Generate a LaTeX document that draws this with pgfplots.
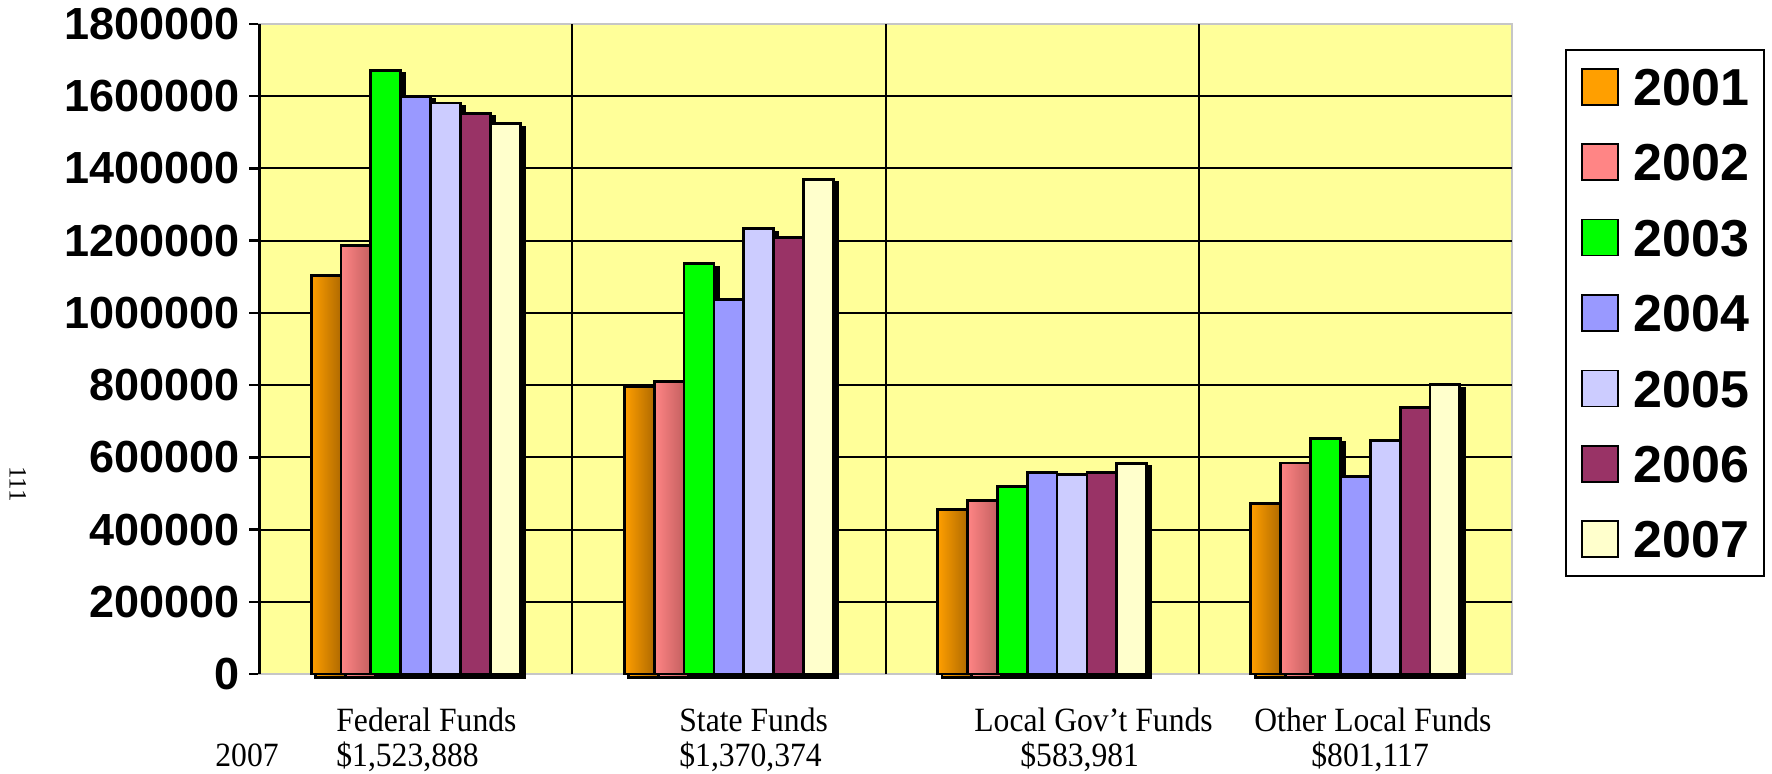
\documentclass[border=0pt]{standalone}
\usepackage{pgfplots}
\pgfplotsset{compat=1.18}
\usepackage{fontspec}
\usetikzlibrary{shadows}
\setmainfont{Liberation Serif}
\newfontfamily\arialfam{Liberation Sans}
\newfontfamily\botfam{Liberation Serif}[FakeStretch=0.93]
\newcommand\tickfont{\arialfam\bfseries\fontsize{22.5}{22.5}\selectfont}
\newcommand\legfont{\arialfam\bfseries\fontsize{26}{26}\selectfont}
\newcommand\botfont{\botfam\fontsize{17}{17}\selectfont}
\definecolor{cA}{HTML}{FF9F00}
\definecolor{cAd}{HTML}{B06A00}
\definecolor{cB}{HTML}{FF8585}
\definecolor{cBd}{HTML}{C46060}
\definecolor{cC}{HTML}{00FF00}
\definecolor{cD}{HTML}{9999FF}
\definecolor{cE}{HTML}{CCCCFF}
\definecolor{cF}{HTML}{993366}
\definecolor{cG}{HTML}{FFFFCC}
\definecolor{plotbg}{HTML}{FFFF99}

\pgfplotstableread{
x v2001 v2002 v2003 v2004 v2005 v2006 v2007
0 1104000 1186000 1672000 1600000 1581000 1553000 1523888
1 797000 809000 1136000 1036000 1234000 1208000 1370374
2 454500 479400 519200 557200 552600 558100 583981
3 472400 584400 651100 547400 647400 738100 801117
}\funds

\begin{document}
\begin{tikzpicture}
\useasboundingbox (0,0) rectangle (886pt,386.5pt);
\begin{axis}[
  at={(129.5pt,49.5pt)}, anchor=south west,
  scale only axis, width=626.5pt, height=325pt,
  xmin=-0.5, xmax=3.5, ymin=0, ymax=1800000,
  clip=false,
  axis background/.style={fill=plotbg},
  axis line style={draw=gray!45, line width=0.6pt},
  xtick=\empty,
  ytick={0,200000,400000,600000,800000,1000000,1200000,1400000,1600000,1800000},
  yticklabels={0,200000,400000,600000,800000,1000000,1200000,1400000,1600000,1800000},
  scaled y ticks=false,
  ytick pos=left,
  tick align=outside,
  major tick length=5pt,
  major tick style={black, line width=1.2pt},
  yticklabel style={font=\tickfont, anchor=east, inner sep=0pt, xshift=-4.5pt},
  extra y ticks={200000,400000,600000,800000,1000000,1200000,1400000,1600000},
  extra y tick labels={},
  extra y tick style={grid=major, major tick length=0pt},
  extra x ticks={0.5,1.5,2.5},
  extra x tick labels={},
  extra x tick style={grid=major, major tick length=0pt},
  major grid style={black, line width=1pt},
  bstyle/.style={ybar, bar width=14.93pt, draw=black, line width=1.4pt, forget plot,
    drop shadow={shadow xshift=2.2pt, shadow yshift=-1.8pt, fill=black, opacity=1}},
  cylA/.style={bstyle, bar shift=-44.79pt, left color=cA, right color=cAd},
  cylB/.style={bstyle, bar shift=-29.86pt, left color=cB, right color=cBd},
  legend style={
    at={(1.0423,0.9615)}, anchor=north west,
    draw=black, line width=1pt, fill=white,
    inner xsep=7.5pt, inner ysep=9pt,
    row sep=18.9pt, column sep=7.5pt,
    font=\legfont,
    nodes={inner sep=0pt, text height=18.6pt, text depth=0pt},
  },
  legend cell align=left,
  legend image code/.code={\draw[#1, draw=black, line width=0.8pt] (0pt,-9pt) rectangle (18pt,9pt);},
]
\addplot[cylA, restrict x to domain=-0.1:0.1] table[x=x, y=v2001] {\funds};
\addplot[cylA, restrict x to domain=0.9:1.1] table[x=x, y=v2001] {\funds};
\addplot[cylA, restrict x to domain=1.9:2.1] table[x=x, y=v2001] {\funds};
\addplot[cylA, restrict x to domain=2.9:3.1] table[x=x, y=v2001] {\funds};
\addplot[cylB, restrict x to domain=-0.1:0.1] table[x=x, y=v2002] {\funds};
\addplot[cylB, restrict x to domain=0.9:1.1] table[x=x, y=v2002] {\funds};
\addplot[cylB, restrict x to domain=1.9:2.1] table[x=x, y=v2002] {\funds};
\addplot[cylB, restrict x to domain=2.9:3.1] table[x=x, y=v2002] {\funds};
\addplot[bstyle, bar shift=-14.93pt, fill=cC] table[x=x, y=v2003] {\funds};
\addplot[bstyle, bar shift=0pt, fill=cD] table[x=x, y=v2004] {\funds};
\addplot[bstyle, bar shift=14.93pt, fill=cE] table[x=x, y=v2005] {\funds};
\addplot[bstyle, bar shift=29.86pt, fill=cF] table[x=x, y=v2006] {\funds};
\addplot[bstyle, bar shift=44.79pt, fill=cG] table[x=x, y=v2007] {\funds};
\addlegendimage{fill=cA}\addlegendentry{2001}
\addlegendimage{fill=cB}\addlegendentry{2002}
\addlegendimage{fill=cC}\addlegendentry{2003}
\addlegendimage{fill=cD}\addlegendentry{2004}
\addlegendimage{fill=cE}\addlegendentry{2005}
\addlegendimage{fill=cF}\addlegendentry{2006}
\addlegendimage{fill=cG}\addlegendentry{2007}
\draw[black, line width=1.5pt] (rel axis cs:0,0) -- (rel axis cs:0,1);
\end{axis}
\begin{scope}[every node/.style={inner sep=0pt, font=\botfont}]
\node[anchor=base west] at (168pt,21pt) {Federal Funds};
\node[anchor=base west] at (168pt,3.5pt) {\$1,523,888};
\node[anchor=base west] at (339.5pt,21pt) {State Funds};
\node[anchor=base west] at (339.5pt,3.5pt) {\$1,370,374};
\node[anchor=base west] at (487pt,21pt) {Local Gov’t Funds};
\node[anchor=base west] at (510pt,3.5pt) {\$583,981};
\node[anchor=base west] at (627pt,21pt) {Other Local Funds};
\node[anchor=base west] at (655.5pt,3.5pt) {\$801,117};
\node[anchor=base west] at (107.5pt,3.5pt) {2007};
\end{scope}
\node[inner sep=0pt, rotate=-90, font=\fontsize{12.5}{12.5}\selectfont] at (9pt,144.5pt) {111};
\end{tikzpicture}
\end{document}
